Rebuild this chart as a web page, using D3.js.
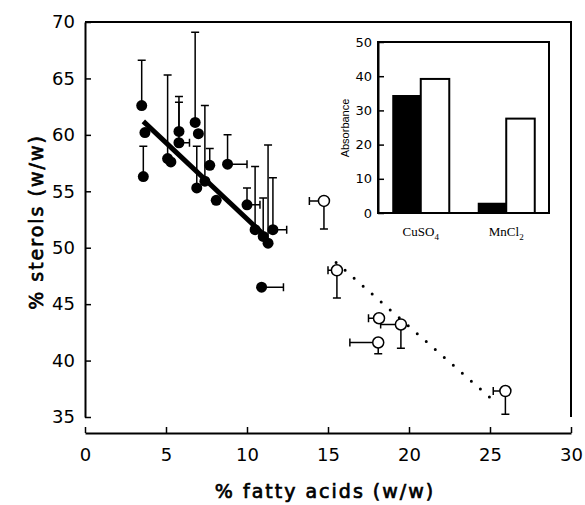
<!DOCTYPE html>
<html><head><meta charset="utf-8">
<script src="https://cdn.jsdelivr.net/npm/d3@7"></script>
<style>body{margin:0;background:#fff}</style>
</head><body>
<svg id="c" width="585" height="505"></svg>
<script>
// ---- data ----
const filledFatty   = [3.5, 3.7, 3.6, 5.1, 5.3, 5.8, 5.8, 6.8, 7.0, 6.9, 7.4, 7.7, 8.8, 8.1, 10.0, 10.5, 11.0, 11.3, 11.6, 10.9];
const filledSterol  = [62.6,60.2,56.3,57.9,57.6,60.3,59.3,61.1,60.1,55.3,55.9,57.3,57.4,54.2,53.8,51.6,51.0,50.4,51.6,46.5];
const filledSterolErr=[4.0, 0,   2.7, 7.4, 0,   3.1, 3.6, 8.0, 0,   3.7, 6.7, 1.5, 2.6, 0,   1.5, 5.6, 3.4, 8.7, 4.6, 0];
const filledFattyErr= [0,   0,   0,   0,   0,   0,   0.65,0,   0,   0,   0,   0,   1.2, 0,   0.8, 0,   0,   0,   0.85,1.35];
const openFatty     = [14.75, 15.55, 18.15, 19.5, 18.1, 25.95];
const openSterol    = [54.15, 48.0, 43.75, 43.2, 41.6, 37.3];
const openSterolErr = [2.5, 2.45, 0, 2.1, 1.0, 2.05];
const openFattyErr  = [0.9, 0.55, 0.65, 1.25, 1.75, 0.75];
const fitFilledX = [3.6, 11.0], fitFilledY = [61.2, 51.2];
const fitOpenX   = [15.5, 25.1], fitOpenY   = [48.7, 36.6];
const xTicks = [0,5,10,15,20,25,30];
const yTicks = [35,40,45,50,55,60,65,70];
const salts = ["CuSO4","MnCl2"];
const saltLabel = [["CuSO","4"],["MnCl","2"]];
const absFilled = [34.5, 3.0];
const absOpen   = [39.2, 27.6];
const insetTicks = [0,10,20,30,40,50];

// ---- drawing ----
const svg = d3.select("#c");
const x = d3.scaleLinear().domain([0,30]).range([85,571]);
const y = d3.scaleLinear().domain([35,70]).range([417,22]);
const tickFont = "DejaVu Sans, sans-serif";

// frame top/right
svg.append("path").attr("d", `M${x(0)},${y(70)}H${x(30)}V${y(35)}`)
  .attr("fill","none").attr("stroke","#000").attr("stroke-width",2);

const yAx = svg.append("g").attr("transform",`translate(${x(0)},0)`)
  .call(d3.axisLeft(y).tickValues(yTicks).tickSizeInner(-6).tickSizeOuter(0).tickPadding(10));
const xAx = svg.append("g").attr("transform",`translate(0,433)`)
  .call(d3.axisBottom(x).tickValues(xTicks).tickSizeInner(-6).tickSizeOuter(0).tickPadding(15));
[yAx,xAx].forEach(g=>{
  g.select(".domain").attr("stroke-width",2);
  g.selectAll(".tick line").attr("stroke-width",1.5);
  g.selectAll("text").attr("font-family",tickFont).attr("font-size",18).attr("fill","#000");
});

// axis titles
svg.append("text").attr("x",325).attr("y",498).attr("text-anchor","middle")
  .attr("font-family",tickFont).attr("font-size",19).attr("letter-spacing",2)
  .attr("stroke","#000").attr("stroke-width",0.7)
  .text("% fatty acids (w/w)");
svg.append("text").attr("transform","translate(43,222) rotate(-90)").attr("text-anchor","middle")
  .attr("font-family",tickFont).attr("font-size",19).attr("letter-spacing",2)
  .attr("stroke","#000").attr("stroke-width",0.7)
  .text("% sterols (w/w)");

// regression lines
const line = d3.line().x(d=>x(d[0])).y(d=>y(d[1]));
svg.append("path").attr("d", line(d3.zip(fitFilledX, fitFilledY)))
  .attr("stroke","#000").attr("stroke-width",5).attr("fill","none");
svg.append("path").attr("d", line(d3.zip(fitOpenX, fitOpenY)))
  .attr("stroke","#000").attr("stroke-width",3).attr("stroke-linecap","round")
  .attr("stroke-dasharray","0 12").attr("fill","none");

// error bars
const eb = svg.append("g").attr("stroke","#000").attr("stroke-width",1.5).attr("fill","none");
const cap = 4;
filledFatty.forEach((fx,i)=>{
  const px=x(fx), py=y(filledSterol[i]);
  if(filledSterolErr[i]>0){
    const ty=y(filledSterol[i]+filledSterolErr[i]);
    eb.append("path").attr("d",`M${px},${py}V${ty}M${px-cap},${ty}H${px+cap}`);
  }
  if(filledFattyErr[i]>0){
    const tx=x(fx+filledFattyErr[i]);
    eb.append("path").attr("d",`M${px},${py}H${tx}M${tx},${py-cap}V${py+cap}`);
  }
});
openFatty.forEach((fx,i)=>{
  const px=x(fx), py=y(openSterol[i]);
  if(openSterolErr[i]>0){
    const ty=y(openSterol[i]-openSterolErr[i]);
    eb.append("path").attr("d",`M${px},${py}V${ty}M${px-cap},${ty}H${px+cap}`);
  }
  if(openFattyErr[i]>0){
    const tx=x(fx-openFattyErr[i]);
    eb.append("path").attr("d",`M${px},${py}H${tx}M${tx},${py-cap}V${py+cap}`);
  }
});

// markers
svg.append("g").selectAll("circle").data(d3.range(filledFatty.length)).join("circle")
  .attr("cx",i=>x(filledFatty[i])).attr("cy",i=>y(filledSterol[i])).attr("r",5.5).attr("fill","#000");
svg.append("g").selectAll("circle").data(d3.range(openFatty.length)).join("circle")
  .attr("cx",i=>x(openFatty[i])).attr("cy",i=>y(openSterol[i])).attr("r",5.5)
  .attr("fill","#fff").attr("stroke","#000").attr("stroke-width",1.5);

// ---- inset ----
const ix = d3.scaleBand().domain(salts).range([378,549]).paddingInner(0.333).paddingOuter(0.1667);
const isub = d3.scaleBand().domain([0,1]).range([0, ix.bandwidth()]);
const iy = d3.scaleLinear().domain([0,50]).range([213,42]);
const ins = svg.append("g");
ins.append("rect").attr("x",378).attr("y",iy(50)).attr("width",549-378).attr("height",iy(0)-iy(50))
  .attr("fill","#fff").attr("stroke","#000").attr("stroke-width",2);
salts.forEach((s,i)=>{
  ins.append("rect").attr("x",ix(s)+isub(0)).attr("width",isub.bandwidth())
    .attr("y",iy(absFilled[i])).attr("height",iy(0)-iy(absFilled[i])).attr("fill","#000");
  ins.append("rect").attr("x",ix(s)+isub(1)).attr("width",isub.bandwidth())
    .attr("y",iy(absOpen[i])).attr("height",iy(0)-iy(absOpen[i]))
    .attr("fill","#fff").attr("stroke","#000").attr("stroke-width",2);
  const t = ins.append("text").attr("x",ix(s)+ix.bandwidth()/2).attr("y",236).attr("text-anchor","middle")
    .attr("font-family","Liberation Serif, serif").attr("font-size",13);
  t.append("tspan").text(saltLabel[i][0]);
  t.append("tspan").attr("dy",4).attr("font-size",9).text(saltLabel[i][1]);
});
const iAx = ins.append("g").attr("transform","translate(378,0)")
  .call(d3.axisLeft(iy).tickValues(insetTicks).tickSizeInner(-6).tickSizeOuter(0).tickPadding(6));
iAx.select(".domain").attr("stroke-width",2);
iAx.selectAll(".tick line").attr("stroke-width",1.5);
iAx.selectAll("text").attr("font-family",tickFont).attr("font-size",13).attr("fill","#000");
ins.append("text").attr("transform","translate(349,128) rotate(-90)").attr("text-anchor","middle")
  .attr("font-family","Liberation Sans, sans-serif").attr("font-size",11).text("Absorbance");
</script>
</body></html>
